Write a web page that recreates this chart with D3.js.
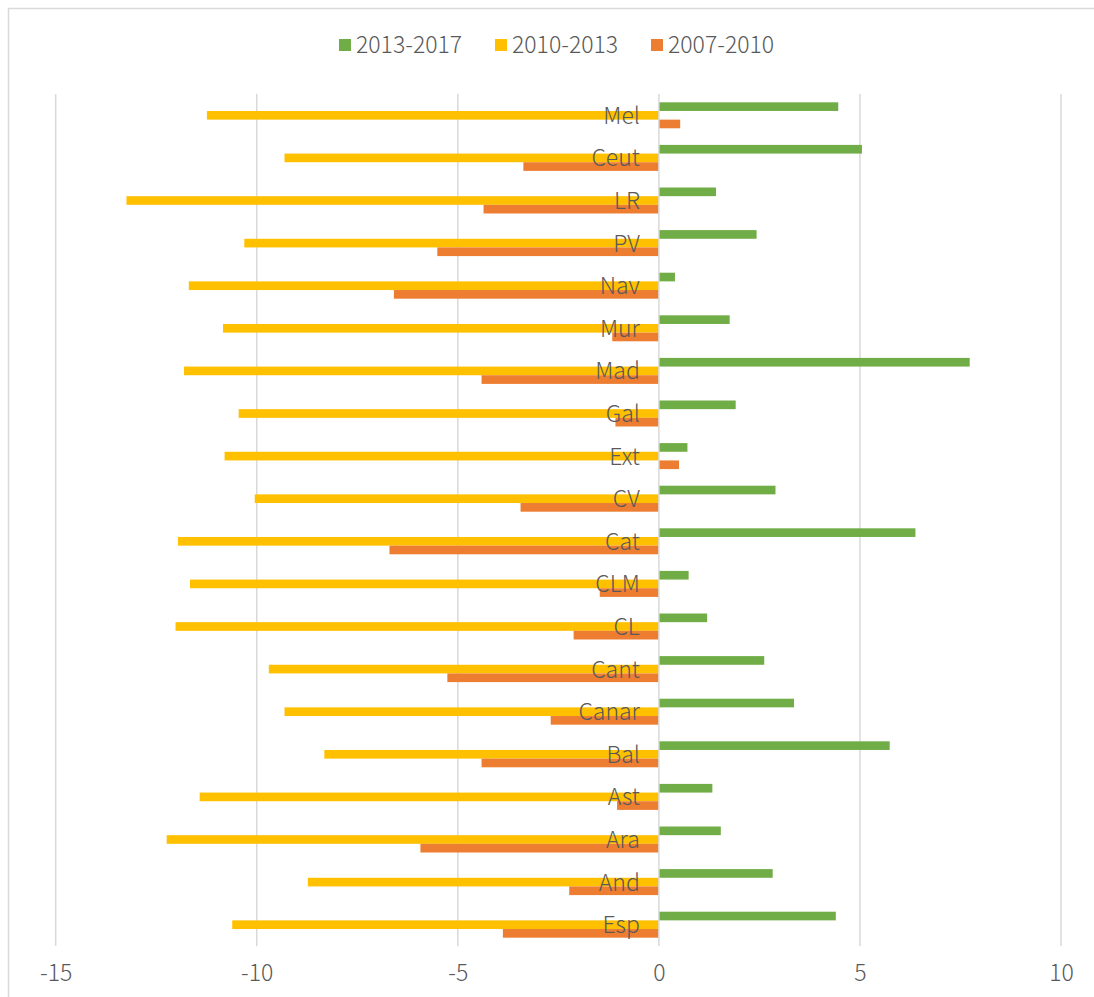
<!DOCTYPE html>
<html>
<head>
<meta charset="utf-8">
<script src="https://cdn.jsdelivr.net/npm/d3@7"></script>
<style>
  html, body { margin: 0; padding: 0; background: #fff; }
  svg { display: block; }
</style>
</head>
<body>
<svg id="chart" width="1094" height="997"></svg>
<script>
// Regions, listed top to bottom
const regions = ["Mel", "Ceut", "LR", "PV", "Nav", "Mur", "Mad", "Gal", "Ext", "CV",
                 "Cat", "CLM", "CL", "Cant", "Canar", "Bal", "Ast", "Ara", "And", "Esp"];

// Percentage change per period, in the same order as regions
const period2013_2017 = [4.46, 5.05, 1.42, 2.43, 0.40, 1.76, 7.73, 1.91, 0.71, 2.90,
                         6.38, 0.74, 1.20, 2.62, 3.36, 5.74, 1.33, 1.54, 2.83, 4.40];
const period2010_2013 = [-11.24, -9.31, -13.24, -10.31, -11.69, -10.84, -11.81, -10.45, -10.80, -10.05,
                         -11.96, -11.66, -12.02, -9.70, -9.31, -8.32, -11.42, -12.24, -8.73, -10.61];
const period2007_2010 = [0.53, -3.37, -4.36, -5.51, -6.59, -1.16, -4.41, -1.08, 0.50, -3.44,
                         -6.70, -1.47, -2.12, -5.26, -2.69, -4.41, -1.04, -5.93, -2.23, -3.88];

const seriesNames = ["2013-2017", "2010-2013", "2007-2010"];
const seriesColors = ["#70AD47", "#FFC000", "#ED7D31"];
const xTicks = [-15, -10, -5, 0, 5, 10];

const seriesValues = [period2013_2017, period2010_2013, period2007_2010];

const svg = d3.select("#chart");
const font = "'Noto Sans CJK SC', 'Noto Sans', sans-serif";
const fontWeight = 300;
const fontSize = 23;
const textColor = "#595959";
const gridColor = "#D9D9D9";

// Chart frame
svg.append("rect")
  .attr("x", 8.5).attr("y", 8.5)
  .attr("width", 1200).attr("height", 1200)
  .attr("fill", "none")
  .attr("stroke", gridColor)
  .attr("stroke-width", 1.5);

const plot = { left: 55.7, right: 1061, top: 94, bottom: 946 };

const x = d3.scaleLinear().domain([-15, 10]).range([plot.left, plot.right]);
const y = d3.scaleBand().domain(regions).range([plot.top, plot.bottom])
  .paddingInner(0.39).paddingOuter(0.195);
const ySub = d3.scaleBand().domain(seriesNames).range([0, y.bandwidth()]);

// Vertical gridlines (zero line drawn later, over the bars)
svg.append("g")
  .selectAll("line")
  .data(xTicks.filter(t => t !== 0))
  .join("line")
  .attr("x1", d => x(d)).attr("x2", d => x(d))
  .attr("y1", plot.top).attr("y2", plot.bottom)
  .attr("stroke", gridColor)
  .attr("stroke-width", 1.5);

// Bars
const barData = [];
regions.forEach((r, i) => {
  seriesNames.forEach((s, j) => {
    barData.push({ region: r, series: s, value: seriesValues[j][i], color: seriesColors[j] });
  });
});

svg.append("g")
  .selectAll("rect")
  .data(barData)
  .join("rect")
  .attr("x", d => Math.min(x(0), x(d.value)))
  .attr("width", d => Math.abs(x(d.value) - x(0)))
  .attr("y", d => y(d.region) + ySub(d.series))
  .attr("height", ySub.bandwidth())
  .attr("fill", d => d.color);

// Zero axis line
svg.append("line")
  .attr("x1", x(0)).attr("x2", x(0))
  .attr("y1", plot.top).attr("y2", plot.bottom)
  .attr("stroke", gridColor)
  .attr("stroke-width", 1.5);

// Category labels, right-aligned just left of the zero line
svg.append("g")
  .selectAll("text")
  .data(regions)
  .join("text")
  .attr("x", x(0) - 19)
  .attr("y", d => y(d) + y.bandwidth() / 2 + 8.5)
  .attr("text-anchor", "end")
  .attr("font-family", font)
  .attr("font-weight", fontWeight)
  .attr("font-size", fontSize)
  .attr("fill", textColor)
  .text(d => d);

// X axis tick labels (plain hyphen for negatives)
const xAxis = d3.axisBottom(x).tickValues(xTicks).tickSize(0).tickPadding(0)
  .tickFormat(d => String(d));
const axisG = svg.append("g")
  .attr("transform", `translate(0,${plot.bottom})`)
  .call(xAxis);
axisG.select(".domain").remove();
axisG.selectAll("text")
  .attr("y", 35)
  .attr("dy", 0)
  .attr("font-family", font)
  .attr("font-weight", fontWeight)
  .attr("font-size", fontSize)
  .attr("fill", textColor);

// Legend
const legendX = [339, 495, 651];
const legend = svg.append("g")
  .selectAll("g")
  .data(seriesNames)
  .join("g")
  .attr("transform", (d, i) => `translate(${legendX[i]},39)`);
legend.append("rect")
  .attr("width", 12).attr("height", 12)
  .attr("fill", (d, i) => seriesColors[i]);
legend.append("text")
  .attr("x", 17).attr("y", 13.5)
  .attr("font-family", font)
  .attr("font-weight", fontWeight)
  .attr("font-size", fontSize)
  .attr("fill", textColor)
  .text(d => d);
</script>
</body>
</html>
